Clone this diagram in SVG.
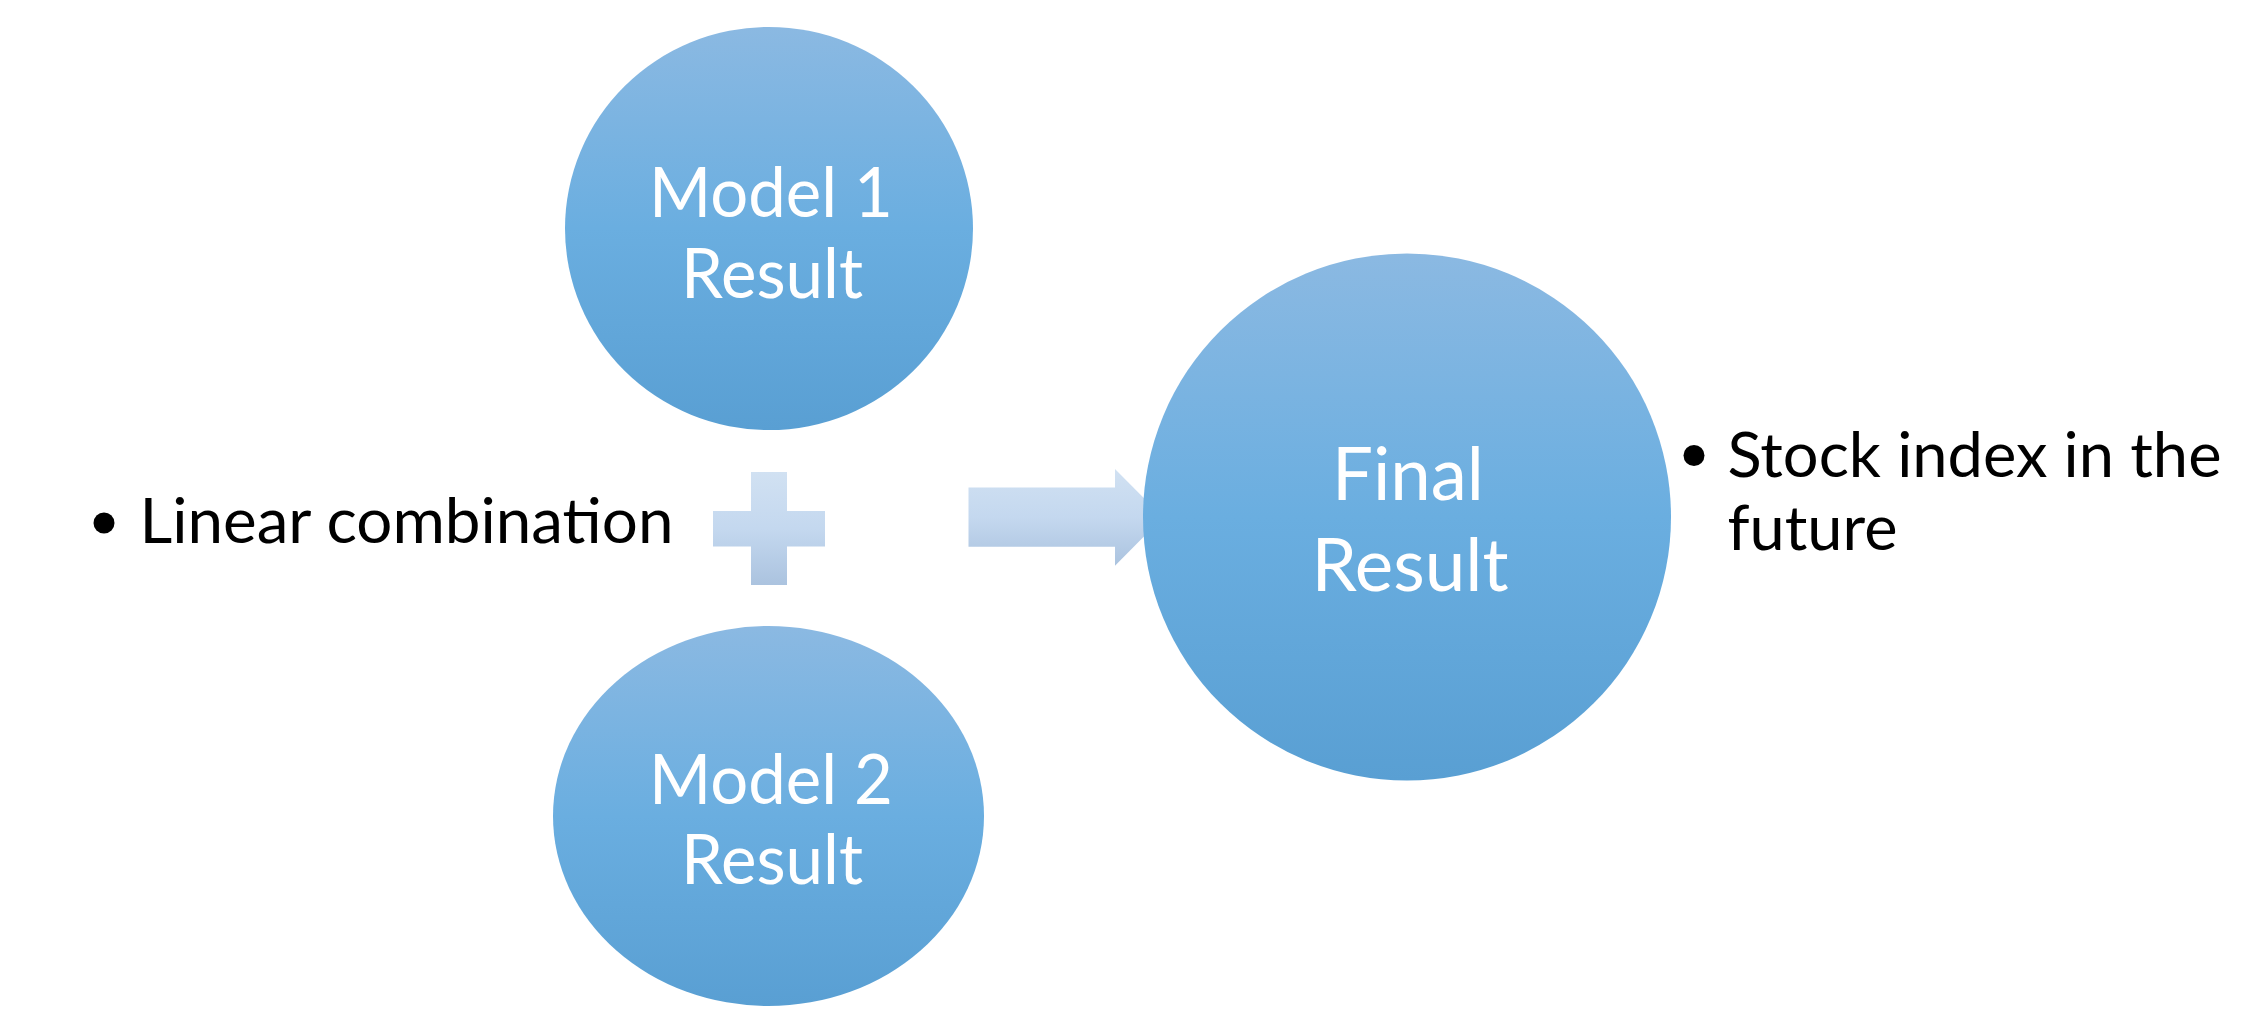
<svg xmlns="http://www.w3.org/2000/svg" width="2266" height="1021" viewBox="0 0 2266 1021">
  <defs>
    <linearGradient id="gBlue" x1="0" y1="0" x2="0" y2="1">
      <stop offset="0" stop-color="#8BB9E2"/>
      <stop offset="0.5" stop-color="#6AAEE0"/>
      <stop offset="1" stop-color="#599FD3"/>
    </linearGradient>
    <linearGradient id="gLight" x1="0" y1="0" x2="0" y2="1">
      <stop offset="0" stop-color="#D1E1F2"/>
      <stop offset="0.5" stop-color="#C4D8EF"/>
      <stop offset="1" stop-color="#ABC3DF"/>
    </linearGradient>
    <style>
      .node { fill: url(#gBlue); }
      .op { fill: url(#gLight); }
      .lbl { font-family: Lato, "Open Sans", "Liberation Sans", sans-serif; fill: #FFFFFF; text-anchor: middle; }
      .side { font-family: Lato, "Open Sans", "Liberation Sans", sans-serif; fill: #000000; }
    </style>
  </defs>
  <rect width="2266" height="1021" fill="#FFFFFF"/>

  <g id="connectors">
    <polygon class="op" points="968.5,487.5 1115,487.5 1115,469 1163,517.3 1115,565.7 1115,546.7 968.5,546.7"/>
  </g>

  <g id="plus">
    <polygon class="op" points="751,472 787,472 787,511 825,511 825,546.5 787,546.5 787,585 751,585 751,546.5 713,546.5 713,511 751,511"/>
  </g>

  <g id="model1">
    <ellipse class="node" cx="769" cy="228.5" rx="204" ry="201.5"/>
    <text class="lbl" x="771" y="217" font-size="69" textLength="244" lengthAdjust="spacingAndGlyphs">Model 1</text>
    <text class="lbl" x="772" y="298" font-size="69" textLength="182" lengthAdjust="spacingAndGlyphs">Result</text>
  </g>

  <g id="model2">
    <ellipse class="node" cx="768.5" cy="816" rx="215.5" ry="190"/>
    <text class="lbl" x="771" y="803.5" font-size="69" textLength="244" lengthAdjust="spacingAndGlyphs">Model 2</text>
    <text class="lbl" x="772" y="884" font-size="69" textLength="182" lengthAdjust="spacingAndGlyphs">Result</text>
  </g>

  <g id="final">
    <ellipse class="node" cx="1407" cy="517" rx="264" ry="263.5"/>
    <text class="lbl" x="1408" y="500" font-size="73.5" textLength="152" lengthAdjust="spacingAndGlyphs">Final</text>
    <text class="lbl" x="1410" y="591" font-size="73.5" textLength="197" lengthAdjust="spacingAndGlyphs">Result</text>
  </g>

  <g id="note-linear">
    <circle cx="104" cy="523" r="10.5" fill="#000000"/>
    <text class="side" x="139.5" y="543" font-size="61.5" textLength="534" lengthAdjust="spacingAndGlyphs">Linear combination</text>
  </g>

  <g id="note-stock">
    <circle cx="1694" cy="455.5" r="10.5" fill="#000000"/>
    <text class="side" x="1727.5" y="476.5" font-size="61.5" textLength="494" lengthAdjust="spacingAndGlyphs">Stock index in the</text>
    <text class="side" x="1727.5" y="550" font-size="61.5" textLength="170" lengthAdjust="spacingAndGlyphs">future</text>
  </g>
</svg>
